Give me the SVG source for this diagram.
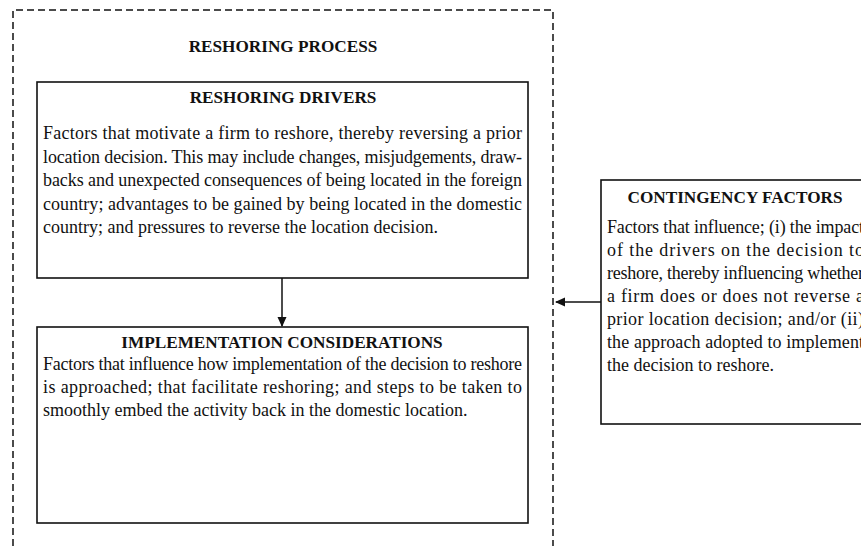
<svg xmlns="http://www.w3.org/2000/svg" width="861" height="546" viewBox="0 0 861 546">
<style>
.box{fill:#fff;stroke:#111;stroke-width:1.6}
.ttl{font-family:"Liberation Serif","Times New Roman",serif;font-weight:bold;font-size:17.2px;fill:#111;text-anchor:middle}
.txt{font-family:"Liberation Serif","Times New Roman",serif;font-size:18px;fill:#111}
.con{stroke:#111;stroke-width:1.5;fill:none}
</style>
<defs>
<marker id="ah" markerWidth="10" markerHeight="10" refX="9" refY="5" orient="auto" markerUnits="userSpaceOnUse">
<path d="M0,0.5 L10,5 L0,9.5 Z" fill="#111"/>
</marker>
</defs>
<rect width="861" height="546" fill="#fff"/>
<g id="process">
<path d="M13,546 V10 H553 V546" fill="none" stroke="#111" stroke-width="1.5" stroke-dasharray="7,4"/>
<text class="ttl" x="283" y="52">RESHORING PROCESS</text>
</g>
<g id="drivers">
<rect class="box" x="37" y="82" width="491" height="196"/>
<text class="ttl" x="283" y="103">RESHORING DRIVERS</text>
<text class="txt" x="43" y="139" textLength="479" lengthAdjust="spacing">Factors that motivate a firm to reshore, thereby reversing a prior</text>
<text class="txt" x="43" y="163" textLength="479" lengthAdjust="spacing">location decision. This may include changes, misjudgements, draw-</text>
<text class="txt" x="43" y="186" textLength="479" lengthAdjust="spacing">backs and unexpected consequences of being located in the foreign</text>
<text class="txt" x="43" y="210" textLength="479" lengthAdjust="spacing">country; advantages to be gained by being located in the domestic</text>
<text class="txt" x="43" y="233">country; and pressures to reverse the location decision.</text>
</g>
<g id="implementation">
<rect class="box" x="37" y="327" width="491" height="196"/>
<text class="ttl" x="282" y="348">IMPLEMENTATION CONSIDERATIONS</text>
<text class="txt" x="43" y="370" textLength="479" lengthAdjust="spacing">Factors that influence how implementation of the decision to reshore</text>
<text class="txt" x="43" y="393" textLength="479" lengthAdjust="spacing">is approached; that facilitate reshoring; and steps to be taken to</text>
<text class="txt" x="43" y="416">smoothly embed the activity back in the domestic location.</text>
</g>
<g id="contingency">
<rect class="box" x="601" y="180" width="269" height="244"/>
<text class="ttl" x="735" y="203">CONTINGENCY FACTORS</text>
<text class="txt" x="607" y="233" textLength="257" lengthAdjust="spacing">Factors that influence; (i) the impact</text>
<text class="txt" x="607" y="256" textLength="257" lengthAdjust="spacing">of the drivers on the decision to</text>
<text class="txt" x="607" y="279" textLength="257" lengthAdjust="spacing">reshore, thereby influencing whether</text>
<text class="txt" x="607" y="302" textLength="257" lengthAdjust="spacing">a firm does or does not reverse a</text>
<text class="txt" x="607" y="325" textLength="257" lengthAdjust="spacing">prior location decision; and/or (ii)</text>
<text class="txt" x="607" y="348" textLength="257" lengthAdjust="spacing">the approach adopted to implement</text>
<text class="txt" x="607" y="371">the decision to reshore.</text>
</g>
<g id="connectors">
<line class="con" x1="282" y1="278" x2="282" y2="326" marker-end="url(#ah)"/>
<line class="con" x1="601" y1="302" x2="556" y2="302" marker-end="url(#ah)"/>
</g>
</svg>
